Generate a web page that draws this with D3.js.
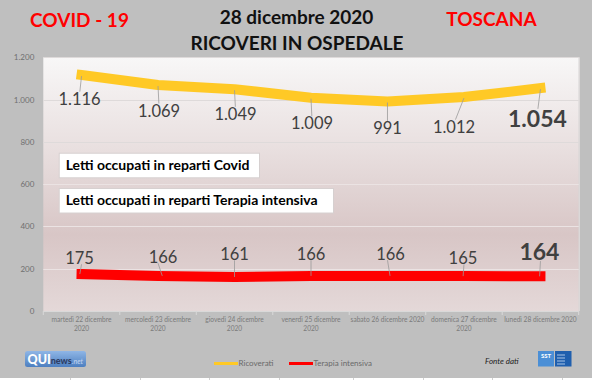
<!DOCTYPE html>
<html><head><meta charset="utf-8">
<script src="https://cdn.jsdelivr.net/npm/d3@7"></script>
<style>html,body{margin:0;padding:0;background:#bfbfbf;}svg{display:block;}</style>
</head><body>
<svg id="c" width="592" height="380"></svg>
<script>
const categories = [
  ["martedì 22 dicembre","2020"],
  ["mercoledì 23 dicembre","2020"],
  ["giovedì 24 dicembre","2020"],
  ["venerdì 25 dicembre","2020"],
  ["sabato 26 dicembre 2020"],
  ["domenica 27 dicembre","2020"],
  ["lunedì 28 dicembre 2020"]
];
const ricoverati = [1116, 1069, 1049, 1009, 991, 1012, 1054];
const terapiaIntensiva = [175, 166, 161, 166, 166, 165, 164];
const yTicks = [0, 200, 400, 600, 800, 1000, 1200];
const seriesNames = ["Ricoverati", "Terapia intensiva"];
const boxLabels = ["Letti occupati in reparti Covid", "Letti occupati in reparti Terapia intensiva"];

// label placement (style)
const ricOffsets = [[-2,24],[1,26],[1,25],[1,26],[0,27],[-10,30],[-3,31]];
const tiOffsets = [[-2,-16],[5,-19],[0,-23],[0,-22],[3,-22],[-1,-18],[-1,-24]];

const FONT = "Lato, 'Open Sans', sans-serif";
const svg = d3.select("#c");
const W = 592, H = 380;
const plot = {l:43.3, r:578.7, t:57.3, b:311};

const it = d3.formatLocale({decimal:",", thousands:".", grouping:[3], currency:["€",""]});
const fmt = it.format(",d");

const x = d3.scaleBand().domain(d3.range(categories.length)).range([plot.l, plot.r]);
const y = d3.scaleLinear().domain([0, 1200]).range([plot.b, plot.t]);

// background
svg.append("rect").attr("width", W).attr("height", H).attr("fill", "#bfbfbf");

const defs = svg.append("defs");
const g = defs.append("linearGradient").attr("id","pg").attr("x1",0).attr("y1",0).attr("x2",0).attr("y2",1);
[[0,"#f8f7f7"],[0.35,"#e9e0e0"],[0.7,"#d8c6c6"],[1,"#e4d8d8"]].forEach(([o,c])=>g.append("stop").attr("offset",o).attr("stop-color",c));

svg.append("rect").attr("x", plot.l).attr("y", plot.t).attr("width", plot.r-plot.l).attr("height", plot.b-plot.t)
  .attr("fill","url(#pg)");
svg.append("line").attr("x1",plot.r+0.5).attr("x2",plot.r+0.5).attr("y1",plot.t).attr("y2",plot.b)
  .attr("stroke","#e8e4e4").attr("stroke-width",1);

// gridlines
svg.append("g").selectAll("line").data(yTicks.filter(d=>d>0)).join("line")
  .attr("x1", plot.l).attr("x2", plot.r)
  .attr("y1", d=>Math.round(y(d))+0.5).attr("y2", d=>Math.round(y(d))+0.5)
  .attr("stroke", d=> d>=800 ? "#dedada" : "#ebe3e3").attr("stroke-width",1);

// y axis
const yAxis = d3.axisLeft(y).tickValues(yTicks).tickFormat(fmt).tickSize(0).tickPadding(9);
const ya = svg.append("g").attr("transform",`translate(${plot.l},0)`).call(yAxis);
ya.select(".domain").remove();
ya.selectAll("text").attr("font-family",FONT).attr("font-size",8).attr("fill","#6f6f6f");

// x axis
const xa = svg.append("g").attr("transform",`translate(0,${plot.b})`);
xa.append("line").attr("x1",plot.l).attr("x2",plot.r).attr("y1",0.5).attr("y2",0.5).attr("stroke","#d9d9d9");
xa.selectAll(".tk").data(d3.range(categories.length+1)).join("line")
  .attr("x1", i=> (i<categories.length? x(i): plot.r)).attr("x2", i=> (i<categories.length? x(i): plot.r))
  .attr("y1",0).attr("y2",4).attr("stroke","#d9d9d9");
categories.forEach((c,i)=>{
  const t = xa.append("text").attr("x", x(i)+x.bandwidth()/2).attr("y", 11)
    .attr("text-anchor","middle").attr("font-family",FONT).attr("font-size",6.6).attr("fill","#7a7a7a");
  c.forEach((ln,k)=> t.append("tspan").attr("x", x(i)+x.bandwidth()/2).attr("dy", k===0?0:9).text(ln));
});

// lines
const lineGen = d3.line().x((d,i)=>x(i)+x.bandwidth()/2).y(d=>y(d));
svg.append("path").datum(ricoverati).attr("d", lineGen).attr("fill","none")
  .attr("stroke","#ffc926").attr("stroke-width",10).attr("stroke-linecap","square").attr("stroke-linejoin","round");
svg.append("path").datum(terapiaIntensiva).attr("d", lineGen).attr("fill","none")
  .attr("stroke","#ff0000").attr("stroke-width",10).attr("stroke-linecap","square").attr("stroke-linejoin","round");

// data labels with leaders
function labels(data, offs, below) {
  const last = data.length-1;
  data.forEach((v,i)=>{
    const px = x(i)+x.bandwidth()/2, py = y(v);
    const lx = px + offs[i][0], ly = py + offs[i][1];
    const big = i===last;
    const fs = big ? 23 : 16.5;
    let y1, y2;
    if (below) { y1 = py + 1; y2 = ly - fs*0.45; }
    else { y1 = ly + fs*0.38; y2 = py; }
    if (Math.abs(y2-y1) > 3) {
      svg.append("line").attr("x1",px).attr("y1",y1).attr("x2",lx+(px-lx)*0.15).attr("y2",y2)
        .attr("stroke","#9a9a9a").attr("stroke-width",0.8);
    }
    svg.append("text").attr("x",lx).attr("y",ly).attr("dy","0.35em").attr("text-anchor","middle")
      .attr("font-family",FONT).attr("font-size",fs).attr("font-weight", big?"bold":"normal")
      .attr("fill","#404040").text(fmt(v));
  });
}
labels(ricoverati, ricOffsets, true);
labels(terapiaIntensiva, tiOffsets, false);

// text boxes
const boxes = [[58.7,152.7,200.3,24.6],[58.7,188,274.3,24.5]];
boxLabels.forEach((t,i)=>{
  const b = boxes[i];
  svg.append("rect").attr("x",b[0]+0.5).attr("y",b[1]+0.5).attr("width",b[2]).attr("height",b[3])
    .attr("fill","#ffffff").attr("stroke","#d6d0d0");
  svg.append("text").attr("x",b[0]+7).attr("y",b[1]+b[3]/2).attr("dy","0.36em")
    .attr("font-family",FONT).attr("font-weight","bold").attr("font-size",14).attr("fill","#000").text(t);
});

// titles
const title = (t,xx,yy,col,fs)=> svg.append("text").attr("x",xx).attr("y",yy).attr("text-anchor","middle")
  .attr("font-family",FONT).attr("font-weight","bold").attr("font-size",fs).attr("fill",col).text(t);
title("COVID - 19", 79.5, 26.5, "#ff0000", 19);
title("28 dicembre 2020", 296.5, 24, "#111", 19);
title("RICOVERI IN OSPEDALE", 297, 50, "#111", 19);
title("TOSCANA", 491.5, 26, "#ff0000", 19);

// legend
const legCols = ["#ffc926","#ff0000"];
const legX = [214, 289];
seriesNames.forEach((n,i)=>{
  svg.append("line").attr("x1",legX[i]).attr("x2",legX[i]+24).attr("y1",363.5).attr("y2",363.5)
    .attr("stroke",legCols[i]).attr("stroke-width",3);
  svg.append("text").attr("x",legX[i]+24.5).attr("y",363.5).attr("dy","0.35em")
    .attr("font-family",FONT).attr("font-size",8).attr("fill","#6a6a6a").text(n);
});

// QUInews logo
const lg = defs.append("linearGradient").attr("id","lq").attr("x1",0).attr("y1",0).attr("x2",0).attr("y2",1);
lg.append("stop").attr("offset",0).attr("stop-color","#8fb6e6");
lg.append("stop").attr("offset",1).attr("stop-color","#4d7fc0");
svg.append("rect").attr("x",25).attr("y",351).attr("width",61).attr("height",16).attr("rx",2.5).attr("fill","url(#lq)");
const qt = svg.append("text").attr("x",27.5).attr("y",363.5).attr("font-family",FONT).attr("font-weight","900");
qt.append("tspan").attr("font-size",12.5).attr("fill","#fff").text("QUI");
qt.append("tspan").attr("font-size",9).attr("fill","#2d3e66").text("news");
qt.append("tspan").attr("font-size",7).attr("fill","#c3d6f2").attr("font-weight","normal").attr("font-style","italic").text(".net");

// Fonte dati
svg.append("text").attr("x",485).attr("y",364).attr("font-family",FONT).attr("font-style","italic")
  .attr("font-size",8).attr("fill","#222").text("Fonte dati");
// SST logo
svg.append("rect").attr("x",538).attr("y",351).attr("width",16).attr("height",15.5).attr("fill","#4b8fd6");
svg.append("rect").attr("x",555).attr("y",351).attr("width",16.5).attr("height",15.5).attr("fill","#1f5fae");
svg.append("text").attr("x",546).attr("y",357.5).attr("text-anchor","middle").attr("font-family",FONT)
  .attr("font-weight","bold").attr("font-size",6).attr("fill","#fff").text("SST");
[355,358,361,364].forEach(v=> svg.append("line").attr("x1",557).attr("x2",565).attr("y1",v).attr("y2",v)
  .attr("stroke","#cfe0f5").attr("stroke-width",0.8));

// bottom strip
svg.append("rect").attr("x",0).attr("y",378).attr("width",W).attr("height",2).attr("fill","#fff");
[70,140,209,279,353,423,492,562].forEach(v=> svg.append("line").attr("x1",v+0.5).attr("x2",v+0.5)
  .attr("y1",378).attr("y2",380).attr("stroke","#d0d0d0"));
</script>
</body></html>
